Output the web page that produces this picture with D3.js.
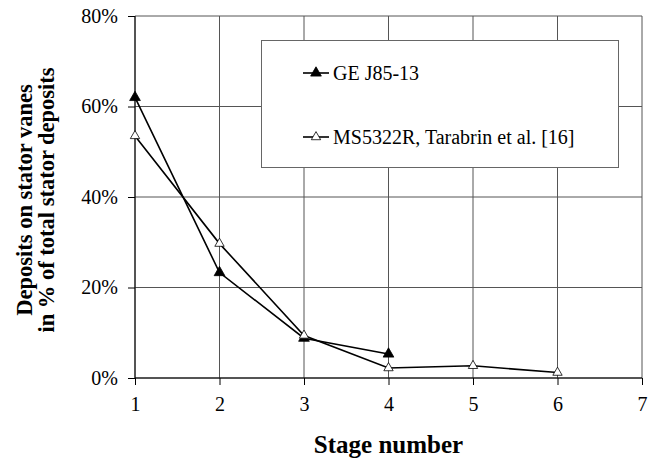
<!DOCTYPE html>
<html>
<head>
<meta charset="utf-8">
<script src="https://cdn.jsdelivr.net/npm/d3@7"></script>
<style>
  body { margin: 0; background: #fff; }
  svg text { font-family: "Liberation Serif", "DejaVu Serif", "Times New Roman", Times, serif; }
</style>
</head>
<body>
<div id="chart-area"></div>
<script>
// stator vane deposits per stage

const stages = [1, 2, 3, 4, 5, 6]
const geJ85 = [0.62, 0.233, 0.088, 0.053]
const ms5322 = [0.535, 0.297, 0.094, 0.022, 0.027, 0.012]
const seriesNames = ["GE J85-13", "MS5322R, Tarabrin et al. [16]"]
const xTicks = [1, 2, 3, 4, 5, 6, 7]
const yTicks = [0, 0.2, 0.4, 0.6, 0.8]

const FONT = "'Liberation Serif', 'DejaVu Serif', 'Times New Roman', serif"
const W = 656
const H = 459
const MARGIN = { LEFT: 135, RIGHT: 14, TOP: 16, BOTTOM: 81 }

const svg = d3.select("#chart-area").append("svg")
    .attr("width", W)
    .attr("height", H)
    .attr("font-family", FONT)

const x = d3.scaleLinear()
    .domain([1, 7])
    .range([MARGIN.LEFT, W - MARGIN.RIGHT])

const y = d3.scaleLinear()
    .domain([0, 0.8])
    .range([H - MARGIN.BOTTOM, MARGIN.TOP])

// grid
svg.append("g")
  .selectAll("line")
  .data(yTicks)
  .enter().append("line")
    .attr("x1", x(1)).attr("x2", x(7))
    .attr("y1", d => y(d)).attr("y2", d => y(d))
    .attr("stroke", "#555").attr("stroke-width", 1)

svg.append("g")
  .selectAll("line")
  .data(xTicks)
  .enter().append("line")
    .attr("x1", d => x(d)).attr("x2", d => x(d))
    .attr("y1", y(0)).attr("y2", y(0.8))
    .attr("stroke", "#555").attr("stroke-width", 1)

// axes
const yAxisCall = d3.axisLeft(y)
    .tickValues(yTicks)
    .tickFormat(d3.format(".0%"))
    .tickSize(7)
    .tickPadding(10)

const xAxisCall = d3.axisBottom(x)
    .tickValues(xTicks)
    .tickFormat(d3.format("d"))
    .tickSize(7)
    .tickPadding(12)

svg.append("g")
    .attr("transform", `translate(${x(1)}, 0)`)
    .call(yAxisCall)
    .attr("font-family", FONT)

svg.append("g")
    .attr("transform", `translate(0, ${y(0)})`)
    .call(xAxisCall)
    .attr("font-family", FONT)

svg.selectAll(".domain").remove()
svg.selectAll(".tick line").attr("stroke", "#000").attr("stroke-width", 1)
svg.selectAll(".tick text")
    .attr("font-size", "20px")
    .attr("fill", "#000")

svg.append("line")
    .attr("x1", x(1)).attr("x2", x(1))
    .attr("y1", y(0)).attr("y2", y(0.8))
    .attr("stroke", "#000")
svg.append("line")
    .attr("x1", x(1)).attr("x2", x(7))
    .attr("y1", y(0)).attr("y2", y(0))
    .attr("stroke", "#000")

// legend box
const legend = svg.append("g")
legend.append("rect")
    .attr("x", 261.5).attr("y", 40.5)
    .attr("width", 357).attr("height", 127)
    .attr("fill", "#fff")
    .attr("stroke", "#666")
    .attr("stroke-width", 1)

// series
const line = d3.line()
    .x((d, i) => x(stages[i]))
    .y(d => y(d))

const triFull = d3.symbol().type(d3.symbolTriangle).size(50)
const triOpen = d3.symbol().type(d3.symbolTriangle).size(38)

const series = [
  { name: seriesNames[0], values: geJ85, fill: "#000", sym: triFull },
  { name: seriesNames[1], values: ms5322, fill: "#fff", sym: triOpen }
]

series.forEach((s, k) => {
  svg.append("path")
      .attr("d", line(s.values))
      .attr("fill", "none")
      .attr("stroke", "#000")
      .attr("stroke-width", 1.6)

  svg.selectAll(null)
    .data(s.values)
    .enter().append("path")
      .attr("d", s.sym)
      .attr("transform", (d, i) => `translate(${x(stages[i])}, ${y(d)})`)
      .attr("fill", s.fill)
      .attr("stroke", "#000")
      .attr("stroke-width", 0.8)

  const ly = 73 + k * 64
  legend.append("line")
      .attr("x1", 303).attr("x2", 329)
      .attr("y1", ly).attr("y2", ly)
      .attr("stroke", "#000").attr("stroke-width", 1.6)
  legend.append("path")
      .attr("d", s.sym)
      .attr("transform", `translate(316, ${ly})`)
      .attr("fill", s.fill)
      .attr("stroke", "#000")
      .attr("stroke-width", 0.8)
  legend.append("text")
      .attr("x", 333)
      .attr("y", ly + 7)
      .attr("font-size", "20px")
      .text(s.name)
})

// X label
svg.append("text")
    .attr("x", (x(1) + x(7)) / 2)
    .attr("y", 453)
    .attr("font-size", "25px")
    .attr("font-weight", "bold")
    .attr("text-anchor", "middle")
    .text("Stage number")

// Y label
const yLabel = svg.append("text")
    .attr("transform", `translate(32, ${(y(0) + y(0.8)) / 2 + 3}) rotate(-90)`)
    .attr("font-size", "22.5px")
    .attr("font-weight", "bold")
    .attr("text-anchor", "middle")

yLabel.append("tspan").attr("x", 0).attr("dy", 0).text("Deposits on stator vanes")
yLabel.append("tspan").attr("x", 0).attr("dy", 22).text("in % of total stator deposits")
</script>
</body>
</html>
